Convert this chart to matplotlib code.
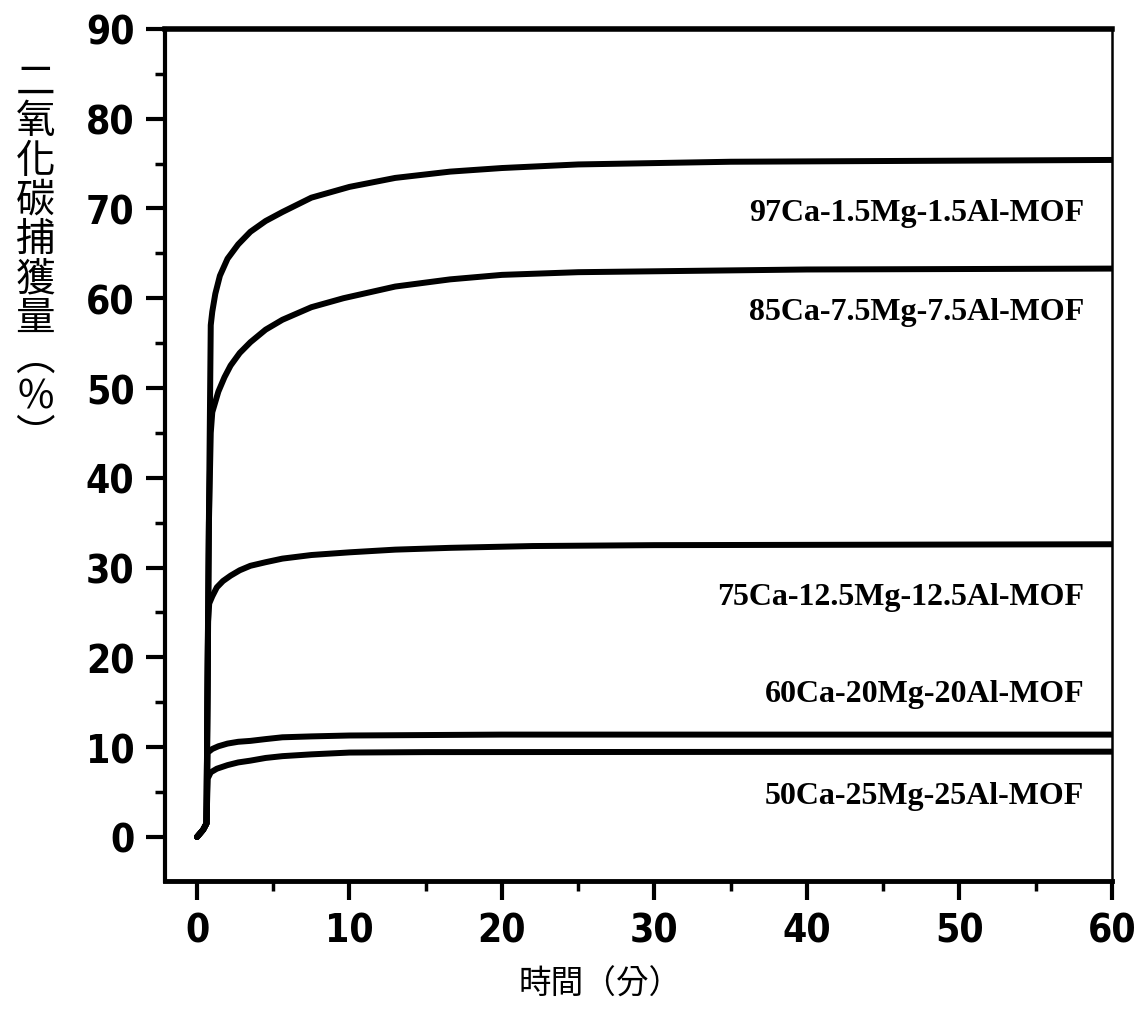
import matplotlib
matplotlib.use('Agg')
import matplotlib.pyplot as plt
from matplotlib.ticker import MultipleLocator
from matplotlib import font_manager

# CO2 capture (%) vs time (min) for each Ca-Mg-Al MOF
labels = ['97Ca-1.5Mg-1.5Al-MOF', '85Ca-7.5Mg-7.5Al-MOF', '75Ca-12.5Mg-12.5Al-MOF',
          '60Ca-20Mg-20Al-MOF', '50Ca-25Mg-25Al-MOF']

t_97 = [0, 0.4, 0.62, 0.75, 0.9, 1.0, 1.2, 1.5, 2.0, 2.7, 3.5, 4.5, 5.6, 7.5, 10, 13, 16.6, 20, 25, 35, 60]
y_97 = [0, 0.8, 1.5, 30, 57, 58.5, 60.5, 62.5, 64.4, 66.0, 67.4, 68.6, 69.6, 71.2, 72.4, 73.4, 74.1, 74.5, 74.9, 75.2, 75.4]

t_85 = [0, 0.4, 0.62, 0.78, 0.9, 1.0, 1.4, 1.8, 2.2, 2.8, 3.5, 4.5, 5.6, 7.5, 9.6, 13, 16.6, 20, 25, 40, 60]
y_85 = [0, 0.8, 1.5, 35, 45, 47.3, 49.6, 51.2, 52.5, 53.9, 55.1, 56.5, 57.6, 59.0, 60.0, 61.3, 62.1, 62.6, 62.9, 63.2, 63.3]

t_75 = [0, 0.4, 0.62, 0.72, 0.8, 1.0, 1.3, 1.7, 2.2, 2.8, 3.5, 4.5, 5.6, 7.5, 10, 13, 16.6, 22, 30, 60]
y_75 = [0, 0.8, 1.5, 24, 26, 26.8, 27.8, 28.5, 29.1, 29.7, 30.2, 30.6, 31.0, 31.4, 31.7, 32.0, 32.2, 32.4, 32.5, 32.6]

t_60 = [0, 0.4, 0.62, 0.7, 1.0, 1.4, 2.0, 2.7, 3.5, 4.5, 5.6, 7.5, 10, 15, 20, 60]
y_60 = [0, 0.8, 1.5, 9.4, 9.8, 10.1, 10.4, 10.6, 10.7, 10.9, 11.1, 11.2, 11.3, 11.35, 11.4, 11.4]

t_50 = [0, 0.4, 0.62, 0.7, 0.9, 1.3, 2.0, 2.7, 3.5, 4.5, 5.6, 7.5, 10, 15, 60]
y_50 = [0, 0.8, 1.5, 6.5, 7.2, 7.6, 8.0, 8.3, 8.5, 8.8, 9.0, 9.2, 9.4, 9.45, 9.5]

series = [(t_97, y_97), (t_85, y_85), (t_75, y_75), (t_60, y_60), (t_50, y_50)]

# where each curve's name sits (data coords)
label_x = 58.2
label_y = [69.6, 58.5, 26.8, 16.0, 4.6]

fig = plt.figure(figsize=(11.38, 10.12), dpi=100)
ax = fig.add_axes([0.145, 0.1285, 0.832, 0.842])

for t, y in series:
    ax.plot(t, y, color='black', lw=4.3, solid_capstyle='round', solid_joinstyle='round')

for name, ly in zip(labels, label_y):
    ax.text(label_x, ly, name, ha='right', va='center', fontsize=23,
            fontweight='bold', family='Liberation Serif')

ax.set_xlim(-2.1, 60)
ax.set_ylim(-4.9, 90)
ax.xaxis.set_major_locator(MultipleLocator(10))
ax.xaxis.set_minor_locator(MultipleLocator(5))
ax.yaxis.set_major_locator(MultipleLocator(10))
ax.yaxis.set_minor_locator(MultipleLocator(5))
ax.tick_params(which='major', direction='out', length=14, width=3, pad=8)
ax.tick_params(which='minor', direction='out', length=7, width=2.5)
ax.tick_params(top=False, right=False, which='both')

tick_font = font_manager.FontProperties(family='DejaVu Sans', weight='bold',
                                        stretch='condensed', size=28)
for lbl in ax.get_xticklabels() + ax.get_yticklabels():
    lbl.set_fontproperties(tick_font)

ax.spines['left'].set_linewidth(3)
ax.spines['bottom'].set_linewidth(3.5)
ax.spines['top'].set_linewidth(4)
ax.spines['right'].set_linewidth(1.8)

# stacked vertical y label and x label
ylab = '\n'.join(['二', '氧', '化', '碳', '捕', '獲', '量', '︵', '%', '︶'])
fig.text(0.031, 0.743, ylab, ha='center', va='center', fontsize=28.5,
         family=['Noto Sans CJK TC', 'DejaVu Sans'], linespacing=0.98)
fig.text(0.527, 0.027, '時間（分）', ha='center', va='center', fontsize=23.5,
         family=['Noto Sans CJK TC', 'DejaVu Sans'])

fig.savefig('out.png', dpi=100)
